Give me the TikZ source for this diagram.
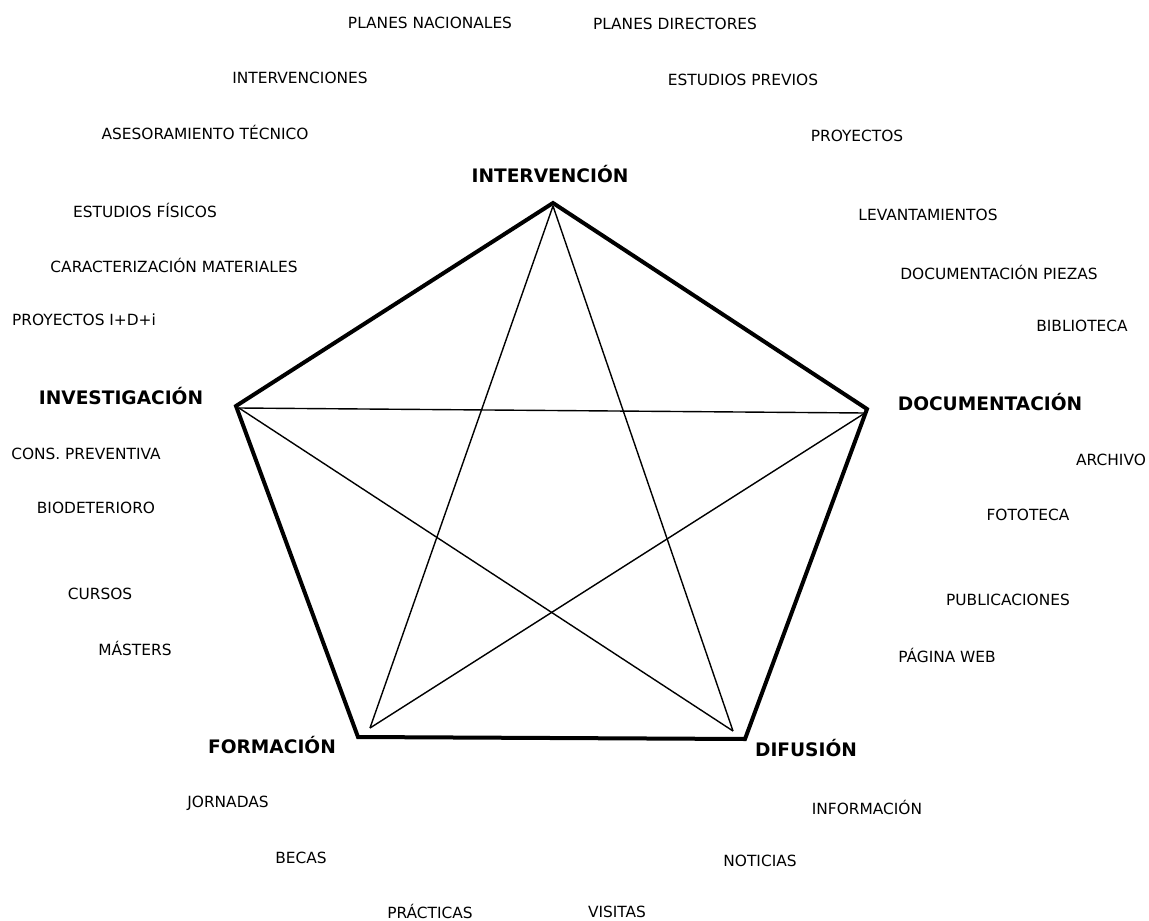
\documentclass[tikz,border=0pt]{standalone}
\usepackage{fontspec}
\setmainfont{DejaVu Sans}
\begin{document}
\begin{tikzpicture}[x=1pt,y=-1pt,
  item/.style={font=\fontsize{15.4}{17}\selectfont, inner sep=0pt},
  main/.style={font=\bfseries\fontsize{18.6}{20}\selectfont, inner sep=0pt},
  pent/.style={line width=4pt, line join=miter},
  star/.style={line width=1.4pt}]
\useasboundingbox[fill=white] (0,0) rectangle (1149,921);
% vertices
\coordinate (T) at (553,203);
\coordinate (L) at (236,406);
\coordinate (R) at (867,409);
\coordinate (BL) at (358,737);
\coordinate (BR) at (745,739);
% star tips
\coordinate (sT) at (553,206);
\coordinate (sL) at (239,408);
\coordinate (sR) at (865,413);
\coordinate (sBL) at (370,728);
\coordinate (sBR) at (733,731);
\draw[pent] (T) -- (R) -- (BR) -- (BL) -- (L) -- cycle;
\draw[star] (sT) -- (sBL);
\draw[star] (sT) -- (sBR);
\draw[star] (sL) -- (sR);
\draw[star] (sL) -- (sBR);
\draw[star] (sR) -- (sBL);
% main labels
\node[main] (n1) at (550,174) {INTERVENCIÓN};
\node[main] (n2) at (121,396) {INVESTIGACIÓN};
\node[main] (n3) at (990,402) {DOCUMENTACIÓN};
\node[main] (n4) at (272,745) {FORMACIÓN};
\node[main] (n5) at (806,748) {DIFUSIÓN};
% items
\node[item] (a1) at (430,23) {PLANES NACIONALES};
\node[item] (a2) at (675,24) {PLANES DIRECTORES};
\node[item] (a3) at (300,78) {INTERVENCIONES};
\node[item] (a4) at (743,80) {ESTUDIOS PREVIOS};
\node[item] (a5) at (205,132) {ASESORAMIENTO TÉCNICO};
\node[item] (a6) at (857,136) {PROYECTOS};
\node[item] (a7) at (145,210) {ESTUDIOS FÍSICOS};
\node[item] (a8) at (928,215) {LEVANTAMIENTOS};
\node[item] (a9) at (174,265) {CARACTERIZACIÓN MATERIALES};
\node[item] (a10) at (999,272) {DOCUMENTACIÓN PIEZAS};
\node[item] (a11) at (84,320) {PROYECTOS I+D+i};
\node[item] (a12) at (1082,326) {BIBLIOTECA};
\node[item] (a13) at (86,454) {CONS. PREVENTIVA};
\node[item] (a14) at (1111,460) {ARCHIVO};
\node[item] (a15) at (96,508) {BIODETERIORO};
\node[item] (a16) at (1028,515) {FOTOTECA};
\node[item] (a17) at (100,594) {CURSOS};
\node[item] (a18) at (1008,600) {PUBLICACIONES};
\node[item] (a19) at (135,648) {MÁSTERS};
\node[item] (a20) at (947,655) {PÁGINA WEB};
\node[item] (a21) at (228,803) {JORNADAS};
\node[item] (a22) at (867,807) {INFORMACIÓN};
\node[item] (a23) at (301,858) {BECAS};
\node[item] (a24) at (760,861) {NOTICIAS};
\node[item] (a25) at (430,911) {PRÁCTICAS};
\node[item] (a26) at (617,912) {VISITAS};
\end{tikzpicture}
\end{document}
